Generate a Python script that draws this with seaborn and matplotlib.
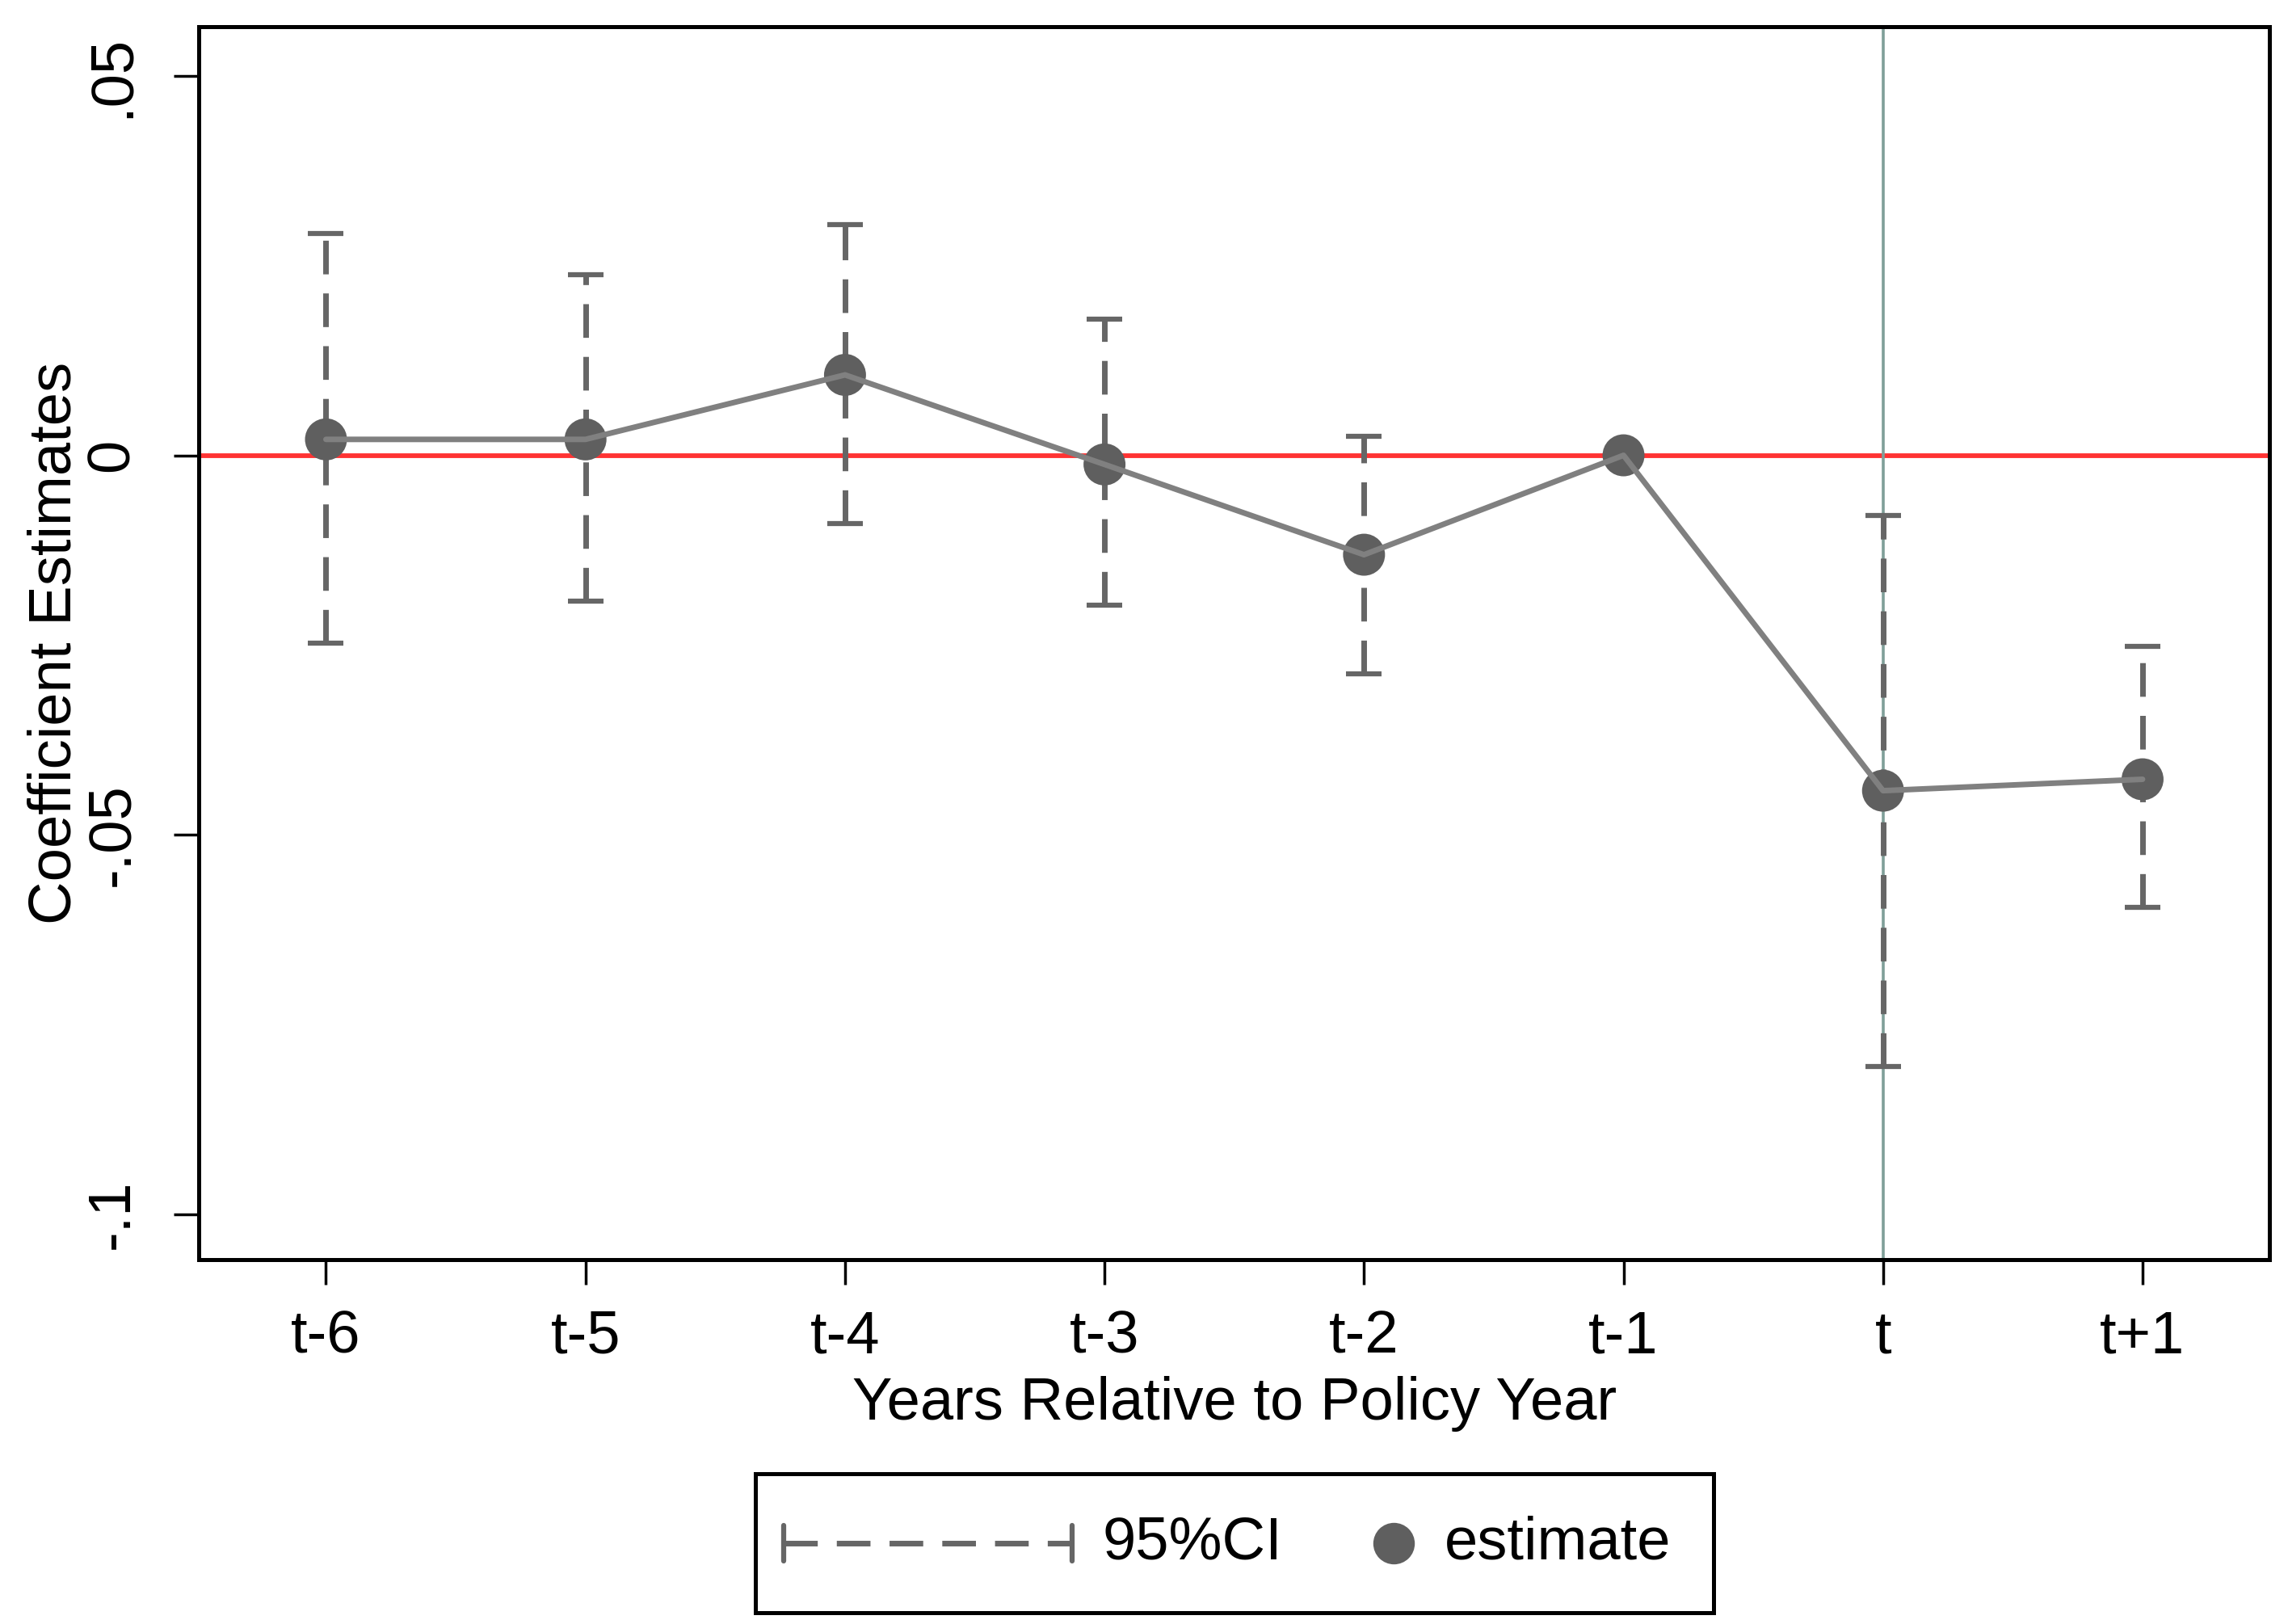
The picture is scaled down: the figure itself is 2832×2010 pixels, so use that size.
import numpy as np
import pandas as pd
import matplotlib
matplotlib.use("Agg")
import matplotlib.pyplot as plt
import seaborn as sns
from matplotlib.lines import Line2D

# ---- data ----
periods = ["t-6", "t-5", "t-4", "t-3", "t-2", "t-1", "t", "t+1"]
estimate = [0.0021, 0.0021, 0.0106, -0.0012, -0.0131, 0.0, -0.0442, -0.0427]
ci_low = [-0.0248, -0.0192, -0.0090, -0.0198, -0.0288, np.nan, -0.0806, -0.0596]
ci_high = [0.0292, 0.0238, 0.0304, 0.0179, 0.0025, np.nan, -0.0079, -0.0252]
yticks = [0.05, 0.0, -0.05, -0.1]
ytick_labels = [".05", "0", "-.05", "-.1"]
policy_period = "t"

df = pd.DataFrame({"period": periods, "estimate": estimate,
                   "ci_low": ci_low, "ci_high": ci_high})
df["pos"] = np.arange(len(df))

sns.set_theme(style="white")
plt.rcParams["font.family"] = ["Liberation Sans", "DejaVu Sans"]
plt.rcParams["text.color"] = "black"
plt.rcParams["axes.labelcolor"] = "black"
plt.rcParams["xtick.color"] = "black"
plt.rcParams["ytick.color"] = "black"

FS = 53.5
fig = plt.figure(figsize=(28.32, 20.10), dpi=100)
ax = fig.add_axes([0.0869, 0.2244, 0.9051, 0.7592])

GRAY_MK = "#5f5f5f"
GRAY_LN = "#808080"
GRAY_CI = "#666666"

ax.axhline(0, color="#ff3333", lw=4.2, zorder=1)
ppos = df.loc[df["period"] == policy_period, "pos"].iloc[0]
ax.axvline(ppos, color="#7f9f98", lw=2.6, zorder=1.5)

ci = df.dropna(subset=["ci_low"])
eb = ax.errorbar(ci["pos"], ci["estimate"],
                 yerr=[ci["estimate"] - ci["ci_low"], ci["ci_high"] - ci["estimate"]],
                 fmt="none", ecolor=GRAY_CI, elinewidth=5, capsize=16, capthick=4.5, zorder=2)
for lc in eb[2]:
    lc.set_linestyle((0, (6, 3.4)))

sns.scatterplot(data=df, x="pos", y="estimate", ax=ax, s=1400, color=GRAY_MK,
                edgecolor="none", linewidth=0, zorder=3, legend=False)
sns.lineplot(data=df, x="pos", y="estimate", ax=ax, color=GRAY_LN, lw=5,
             sort=False, zorder=4, legend=False)

ax.set_xlim(-0.49, len(df) - 1 + 0.49)
ax.set_ylim(-0.106, 0.0565)
ax.set_xticks(df["pos"])
ax.set_xticklabels(periods, fontsize=FS)
ax.set_yticks(yticks)
ax.set_yticklabels(ytick_labels, fontsize=FS, rotation=90, va="center")
ax.tick_params(axis="both", direction="out", length=22, width=2.5, color="black",
               left=True, bottom=True)
ax.tick_params(axis="x", pad=22)
ax.tick_params(axis="y", pad=30)
for s in ax.spines.values():
    s.set_color("black")
    s.set_linewidth(3.6)
ax.set_xlabel("Years Relative to Policy Year", fontsize=FS, labelpad=10)
ax.set_ylabel("Coefficient Estimates", fontsize=FS, labelpad=2)

# ---- legend box ----
lax = fig.add_axes([0.330, 0.007, 0.419, 0.0855])
lax.set_xlim(0, 1)
lax.set_ylim(0, 1)
lax.set_xticks([])
lax.set_yticks([])
lax.set_facecolor("white")
for s in lax.spines.values():
    s.set_color("black")
    s.set_linewidth(3.6)
yc = 0.5
lax.add_line(Line2D([0.030, 0.331], [yc, yc], color=GRAY_CI, lw=5, dashes=(6, 3.4)))
lax.add_line(Line2D([0.030, 0.030], [yc - 0.13, yc + 0.13], color=GRAY_CI, lw=4.5))
lax.add_line(Line2D([0.331, 0.331], [yc - 0.13, yc + 0.13], color=GRAY_CI, lw=4.5))
lax.text(0.362, yc, "95%CI", fontsize=FS, va="center", ha="left")
lax.plot([0.666], [yc], "o", color=GRAY_MK, markersize=37, markeredgewidth=0)
lax.text(0.719, yc, "estimate", fontsize=FS, va="center", ha="left")

fig.savefig("out.png", dpi=100, facecolor="white")
